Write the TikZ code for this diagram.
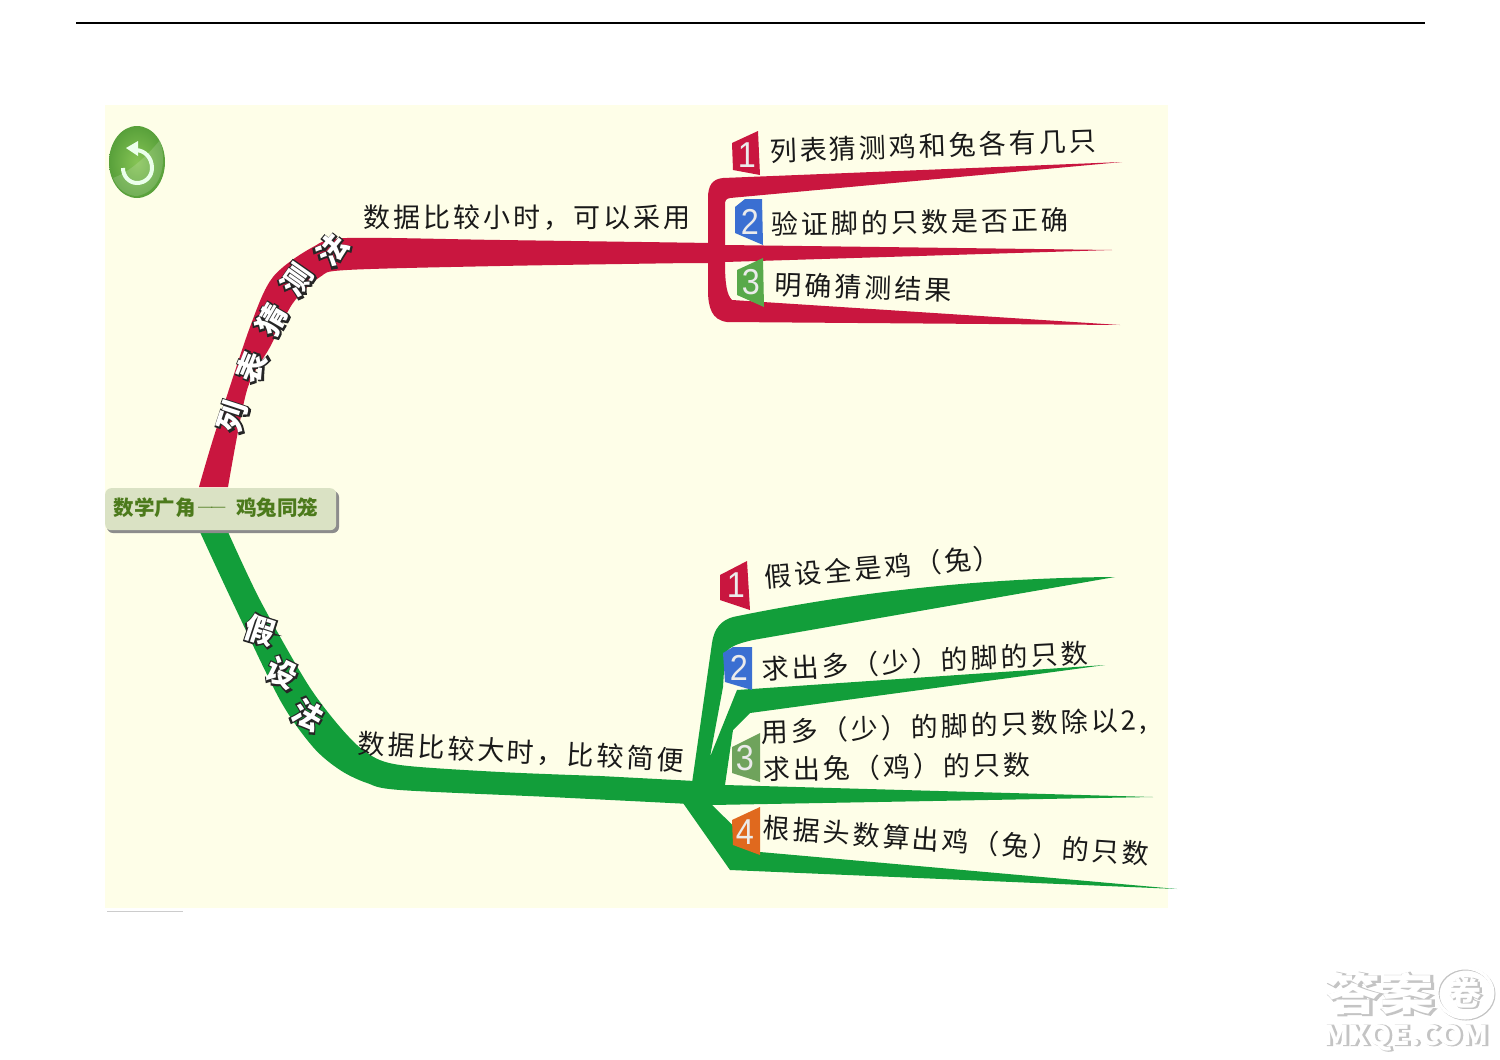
\documentclass[tikz,border=0pt]{standalone}
\usepackage{fontspec}
\setmainfont{Liberation Sans}
\newfontfamily\cjk[LetterSpace=11]{Noto Sans CJK SC}
\newfontfamily\cjkplain{Noto Sans CJK SC}
\newfontfamily\cjkhalo[FakeBold=14]{Noto Sans CJK SC}
\newfontfamily\cjkmark[FakeBold=5]{Noto Sans CJK SC}
\newfontfamily\numfont{Liberation Sans}
\newcommand{\halo}[1]{\makebox[0pt][l]{\color{black!85}\cjkhalo #1}{\color{white}\cjkplain\bfseries #1}}
\newcommand{\wmk}[1]{\makebox[0pt][l]{\color{wmgray}\cjkmark\bfseries\hspace*{1.5pt}#1}{\color{white}\cjkplain\bfseries #1}}
\definecolor{paper}{HTML}{FEFEE8}
\definecolor{rb}{HTML}{C9163F}
\definecolor{gb}{HTML}{129E3A}
\definecolor{wmgray}{HTML}{C4C4C4}
\definecolor{badgeblue}{HTML}{3A6FD2}
\definecolor{badgegreen}{HTML}{58A94A}
\definecolor{badgegreenb}{HTML}{6FA35C}
\definecolor{badgeorange}{HTML}{E0691E}
\definecolor{boxfill}{HTML}{DAE2C4}
\definecolor{boxtext}{HTML}{4C7A1C}
\definecolor{btnin}{HTML}{86C455}
\definecolor{btnout}{HTML}{58A03A}
\tikzset{
 handtext/.style={inner sep=0pt,text=black!90,font=\fontsize{27}{29}\selectfont\cjk},
 curvetext/.style={inner sep=0pt,font=\fontsize{30}{32}\selectfont},
 badgenum/.style={inner sep=0pt,text=white!92!black,font=\fontsize{36}{38}\selectfont\numfont,xscale=.9},
}
\begin{document}
\begin{tikzpicture}[x=1pt,y=-1pt]
\useasboundingbox (0,0) rectangle (1500,1060);
\fill[white] (0,0) rectangle (1500,1060);
\draw[black,line width=1.2pt] (76,23) -- (1425,23);
\fill[paper] (105,105) rectangle (1168,908);
\draw[black!20,line width=.8pt] (107,911) -- (183,911);

% red trunk
\fill[rb] plot[smooth,tension=.5] coordinates {(199,487) (215,433) (250,327) (273,277) (313,247) (347,238) (500,240) (712,243)}
  -- (712,263) -- plot[smooth,tension=.5] coordinates {(690,263) (500,266) (347,270) (320,277) (293,303) (270,347) (247,390) (228,487)} -- cycle;
% red fork
\fill[rb] (1122,162) -- (723,178) .. controls (712,179) and (708,186) .. (708,198) -- (708,290)
  .. controls (708,308) and (712,320) .. (727,322) -- (1120,325) -- (732,300)
  .. controls (727,295) and (725,285) .. (725,262) -- (1112,250) -- (725,245)
  -- (725,205) .. controls (725,200) and (726,199) .. (730,198) -- cycle;
% green trunk
\fill[gb] plot[smooth,tension=.5] coordinates {(200,532) (233,603) (280,700) (313,747) (340,770) (367,783) (400,790) (550,797) (690,804)}
  -- (695,781) -- plot[smooth,tension=.5] coordinates {(600,776) (500,772) (400,765) (367,753) (340,727) (307,683) (260,600) (228,532)} -- cycle;
% green fork
\fill[gb] (692,783) -- (712,643) .. controls (714,628) and (722,620) .. (733,617)
  .. controls (830,597) and (960,578) .. (1115,577) -- (753,640)
  .. controls (735,644) and (727,648) .. (725,655) -- (723,687) -- (710,757) -- (737,690) -- (1105,665) -- (750,713)
  -- (733,730) -- (725,785) -- (1153,797) -- (712,805) -- (760,852) -- (1177,889) -- (730,870) -- (683,803) -- cycle;

% main label
\fill[black!45,rounded corners=6pt] (107,491) rectangle (339,533);
\node[fill=boxfill,rounded corners=6pt,minimum width=231pt,minimum height=42pt,anchor=north west,inner sep=0pt] (root) at (105,488) {};
\node[inner sep=0pt,text=boxtext,font=\fontsize{20.5}{24}\selectfont\cjkplain\bfseries] (rootlabel) at (216,508) {数学广角\hspace{3pt}\scalebox{.7}[1]{─\kern-.1em─}\hspace{10pt}鸡兔同笼};

% button
\shade[inner color=btnin,outer color=btnout] (137,162) ellipse (28 and 36);
\fill[white,opacity=.15] (113,178) .. controls (130,172) and (148,155) .. (160,140) .. controls (168,165) and (160,192) .. (137,196) .. controls (126,196) and (117,188) .. (113,178) -- cycle;
\draw[white!92!green,line width=4pt] (135,150) .. controls (145,150) and (152,158) .. (152,168) .. controls (152,177) and (145,183) .. (137,183) .. controls (129,183) and (123,176) .. (123,168);
\fill[white!92!green] (126,148) -- (138,141) -- (138,156) -- cycle;

% badges
\fill[rb] (732,143) -- (758,131) -- (760,175) -- (733,170) -- cycle;
\fill[badgeblue] (735,207) -- (745,199) -- (762,199) -- (763,245) -- (735,233) -- cycle;
\fill[badgegreen] (737,270) -- (763,258) -- (764,307) -- (737,295) -- cycle;
\fill[rb] (720,575) -- (747,561) -- (750,610) -- (720,600) -- cycle;
\fill[badgeblue] (723,653) -- (733,647) -- (752,647) -- (752,690) -- (725,682) -- cycle;
\fill[badgegreenb] (732,747) -- (760,733) -- (760,782) -- (732,773) -- cycle;
\fill[badgeorange] (732,820) -- (760,807) -- (760,855) -- (733,845) -- cycle;
\node[badgenum] (ra) at (747,155) {1};
\node[badgenum] (rb2) at (750,222) {2};
\node[badgenum] (rc) at (751,282) {3};
\node[badgenum] (ga) at (736,585) {1};
\node[badgenum] (gb2) at (739,668) {2};
\node[badgenum] (gc) at (745,758) {3};
\node[badgenum] (gd) at (745,832) {4};

% red texts
\node[handtext] (t0) at (527,218) {数据比较小时，可以采用};
\node[handtext,rotate=2] (t1) at (933,146) {列表猜测鸡和兔各有几只};
\node[handtext,rotate=1] (t2) at (920,222) {验证脚的只数是否正确};
\node[handtext,rotate=-2] (t3) at (863,287) {明确猜测结果};
% green texts
\node[handtext,rotate=-3] (t4) at (521,752) {数据比较大时，比较简便};
\node[handtext,rotate=5] (t5) at (883,567) {假设全是鸡（兔）};
\node[handtext,rotate=3] (t6) at (925,661) {求出多（少）的脚的只数};
\node[handtext,rotate=2] (t7) at (954,727) {用多（少）的脚的只数除以2,};
\node[handtext,rotate=1] (t8) at (897,767) {求出兔（鸡）的只数};
\node[handtext,rotate=-4] (t9) at (956,841) {根据头数算出鸡（兔）的只数};

% curved labels
\node[curvetext,rotate=72] (c1) at (233,417) {\halo{列}};
\node[curvetext,rotate=68] (c2) at (252,367) {\halo{表}};
\node[curvetext,rotate=60] (c3) at (272,320) {\halo{猜}};
\node[curvetext,rotate=55] (c4) at (297,280) {\halo{测}};
\node[curvetext,rotate=50] (c5) at (332,250) {\halo{法}};
\node[curvetext,rotate=-18] (d1) at (260,630) {\halo{假}};
\node[curvetext,rotate=-26] (d2) at (282,673) {\halo{设}};
\node[curvetext,rotate=-30] (d3) at (308,715) {\halo{法}};

% watermark
\node[inner sep=0pt,font=\fontsize{44}{46}\selectfont,xscale=1.22] (wm1) at (1380,994) {\wmk{答案}};
\draw[wmgray,line width=3pt] (1466,994) ellipse (28 and 25);
\draw[white,line width=3pt] (1465,993) ellipse (28 and 25);
\node[inner sep=0pt,font=\fontsize{32}{34}\selectfont] (wm2) at (1465,993) {\wmk{卷}};
\node[inner sep=0pt,font=\fontsize{27}{29}\selectfont,xscale=1.1] (wm3) at (1406,1038) {\wmk{MXQE.COM}};
\end{tikzpicture}
\end{document}
